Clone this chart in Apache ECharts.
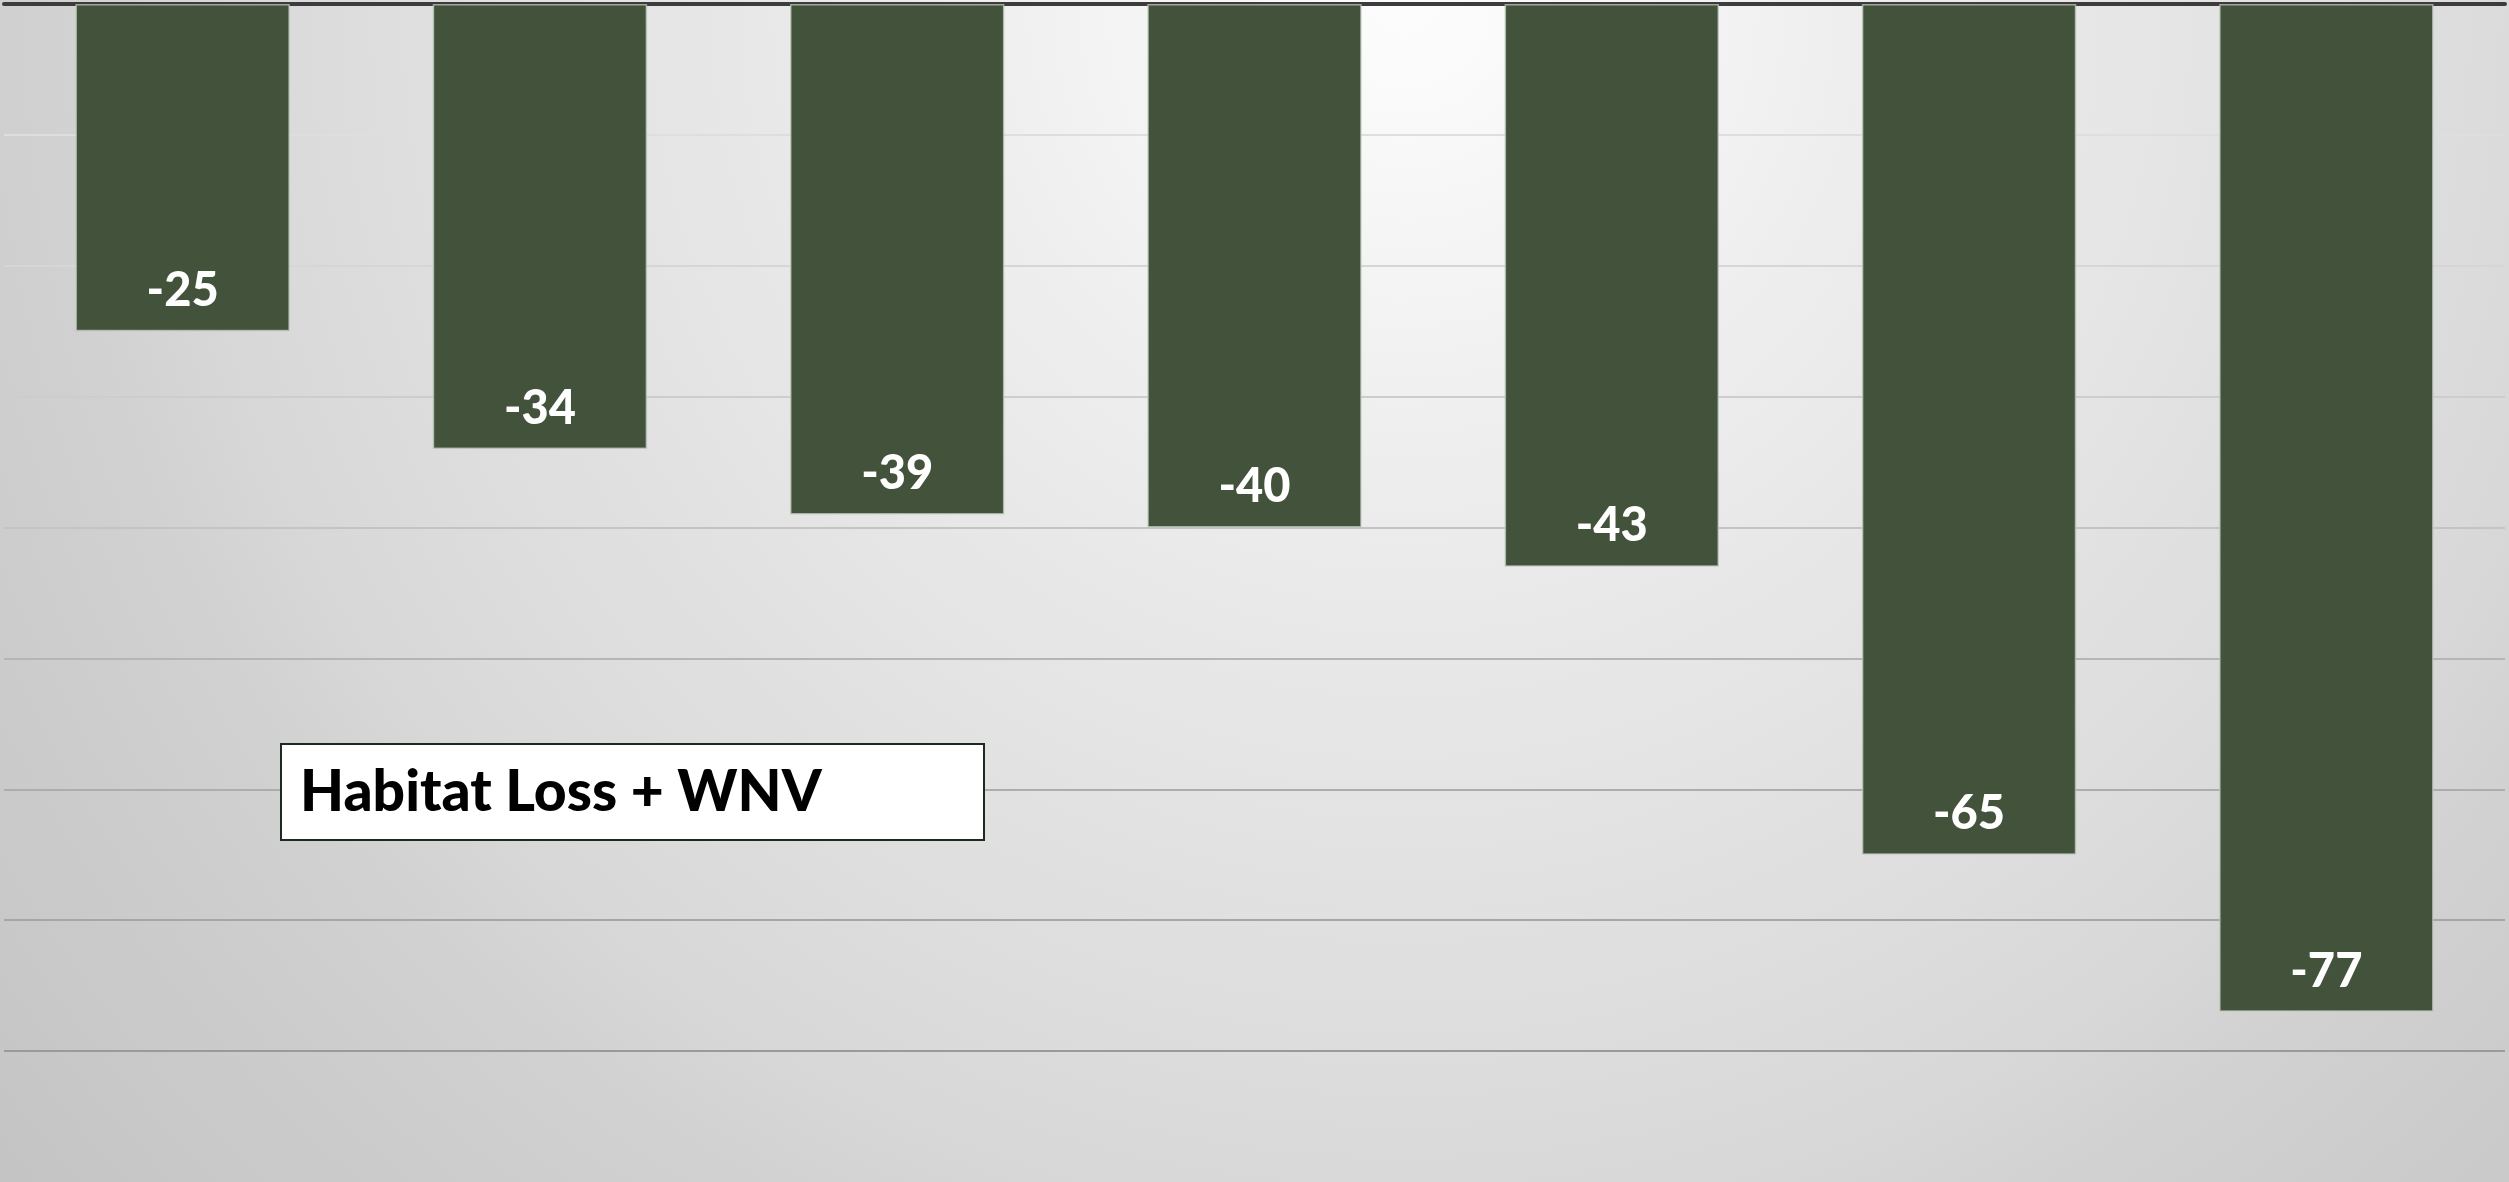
<!DOCTYPE html>
<html>
<head>
<meta charset="utf-8">
<script src="https://cdn.jsdelivr.net/npm/echarts@6/dist/echarts.min.js"></script>
<style>
html,body{margin:0;padding:0;}
#chart{width:2509px;height:1182px;}
</style>
</head>
<body>
<div id="chart"></div>
<script>
const categories = ['1', '2', '3', '4', '5', '6', '7'];
const values = [-25, -34, -39, -40, -43, -65, -77];
const boxLabel = 'Habitat Loss + WNV';

const chart = echarts.init(document.getElementById('chart'));
chart.setOption({
  animation: false,
  backgroundColor: {
    type: 'radial', x: 0.56, y: 0.0, r: 1.55,
    colorStops: [
      { offset: 0, color: '#fdfdfd' },
      { offset: 0.28, color: '#ececec' },
      { offset: 0.645, color: '#d9d9d9' },
      { offset: 0.755, color: '#d0d0d0' },
      { offset: 1, color: '#c4c4c4' }
    ]
  },
  grid: { left: 4, right: 4, top: 4, bottom: -2, containLabel: false },
  xAxis: {
    type: 'category',
    data: categories,
    position: 'top',
    axisLine: { show: true, onZero: false, lineStyle: { color: '#3c3c3c', width: 4 } },
    axisTick: { show: false },
    axisLabel: { show: false },
    splitLine: { show: false }
  },
  yAxis: {
    type: 'value',
    min: -90, max: 0, interval: 10,
    axisLine: { show: false },
    axisTick: { show: false },
    axisLabel: { show: false },
    splitLine: {
      show: true,
      lineStyle: {
        width: 2,
        color: ['rgba(0,0,0,0)', '#9a9a9a', '#a6a6a6', '#adadad', '#b5b5b5', '#c4c4c4', '#cdcdcd', '#d6d6d6', '#dedede', 'rgba(0,0,0,0)']
      }
    }
  },
  series: [{
    type: 'bar',
    data: values,
    barCategoryGap: '40%',
    itemStyle: {
      color: '#43533b',
      borderColor: 'rgba(190,200,190,0.75)',
      borderWidth: 1.5
    },
    label: {
      show: true,
      position: 'insideBottom',
      distance: 17,
      color: '#ffffff',
      fontFamily: 'Lato',
      fontWeight: 900,
      fontSize: 47
    },
    z: 3
  }],
  graphic: [{
    type: 'group',
    left: 280, top: 743,
    z: 100,
    children: [{
      type: 'rect',
      z: 100,
      shape: { x: 0, y: 0, width: 703, height: 96 },
      style: { fill: '#ffffff', stroke: '#1f2a1f', lineWidth: 2 }
    }, {
      type: 'text',
      z: 101,
      x: 19, y: 49,
      style: {
        text: boxLabel,
        fill: '#000000',
        font: '900 57px Lato',
        verticalAlign: 'middle'
      }
    }]
  }]
});
</script>
</body>
</html>
